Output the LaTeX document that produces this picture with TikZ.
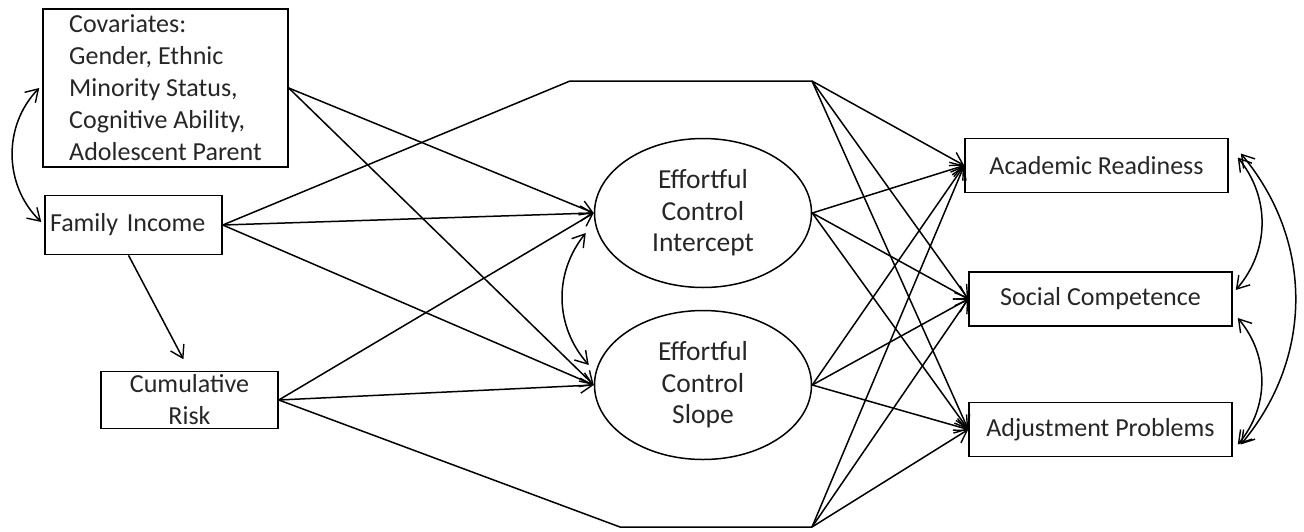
\documentclass[tikz,border=0pt]{standalone}
\usepackage{fontspec}
\setmainfont{Carlito}
\usetikzlibrary{
  shapes.geometric, arrows.meta, calc
}
\tikzset{
  semnode/.style={
    draw, line width=1.5pt, text=black!85,
    font=\fontsize{26}{32}\selectfont
  },
  obsbox/.style={
    semnode, rectangle, align=center, inner sep=0pt
  },
  latentvar/.style={
    semnode, ellipse, align=center, inner sep=0pt,
    minimum width=217pt, minimum height=149pt,
    font=\fontsize{27.5}{31.5}\selectfont
  },
  patharrow/.style={
    -{Straight Barb[length=12pt, width=15pt, line width=1.4pt]}, line width=1.5pt
  },
  covarrow/.style={
    {Straight Barb[length=12pt, width=15pt, line width=1.4pt]}-{Straight Barb[length=12pt, width=15pt, line width=1.4pt]},
    line width=1.5pt
  },
  pathline/.style={line width=1.5pt},
}
\begin{document}
\begin{tikzpicture}[
  x=1pt, y=-1pt,
  outcome/.style={obsbox, minimum width=263pt, minimum height=54pt},
]
  \useasboundingbox (0,0) rectangle (1304,531);

  % --- Predictors ---
  \node[obsbox, align=left, minimum width=245pt, minimum height=158pt] (cov) at (165.5,88)
    {Covariates:\\Gender, Ethnic\\Minority Status,\\Cognitive Ability,\\Adolescent Parent};
  \node[obsbox, align=left, text width=167pt, inner xsep=5pt, minimum height=59pt] (fi) at (133.5,225)
    {Family Income};
  \node[obsbox, minimum width=177pt, minimum height=57pt] (cr) at (189.5,400)
    {Cumulative\\Risk};

  % --- Latent growth factors ---
  \node[latentvar] (ecint) at (703,213) {Effortful\\Control\\Intercept};
  \node[latentvar] (ecslope) at (703,385) {Effortful\\Control\\Slope};

  % --- Outcomes ---
  \node[outcome] (ar) at (1096.5,165.5) {Academic Readiness};
  \node[outcome] (sc) at (1100.5,299) {Social Competence};
  \node[outcome] (ap) at (1100.5,429.5) {Adjustment Problems};

  % bends of the direct paths
  \coordinate (tkink) at (570,81);
  \coordinate (tfork) at (812,81);
  \coordinate (bkink) at (620,527);
  \coordinate (bfork) at (812,527);

  % --- Paths to the growth factors ---
  \draw[patharrow] (cov.east) -- (ecint.west);
  \draw[patharrow] (cov.east) -- (ecslope.west);
  \draw[patharrow] (fi.east) -- (ecint.west);
  \draw[patharrow] (fi.east) -- (ecslope.west);
  \draw[patharrow] (cr.east) -- (ecint.west);
  \draw[patharrow] (cr.east) -- (ecslope.west);
  \draw[patharrow, shorten >=13pt] ([xshift=-5pt]fi.south) -- (cr.north);

  % --- Direct paths around the factors ---
  \draw[pathline] (fi.east) -- (tkink) -- (tfork);
  \draw[pathline] (cr.east) -- (bkink) -- (bfork);
  \foreach \src in {tfork, ecint.east, ecslope.east, bfork} {
    \draw[patharrow] (\src) -- (ar.west);
    \draw[patharrow] (\src) -- (sc.west);
    \draw[patharrow] (\src) -- (ap.west);
  }

  % --- Covariances ---
  \draw[covarrow] ([xshift=-3pt]cov.west) to[bend right=45] ([xshift=-3pt,yshift=3pt]fi.west);
  \draw[covarrow] ([xshift=-8pt,yshift=-20pt]ecint.west) to[bend right=40] ([xshift=-5pt,yshift=20pt]ecslope.west);
  \draw[covarrow] ([xshift=9pt,yshift=8pt]ar.east) to[bend left=40] ([xshift=3pt,yshift=9pt]sc.east);
  \draw[covarrow] ([xshift=5pt,yshift=-19pt]sc.east) to[bend left=40] ([xshift=5pt,yshift=-15pt]ap.east);
  \draw[covarrow] ([xshift=12pt,yshift=12pt]ar.east) to[bend left=40] ([xshift=8pt,yshift=-15pt]ap.east);
\end{tikzpicture}
\end{document}
